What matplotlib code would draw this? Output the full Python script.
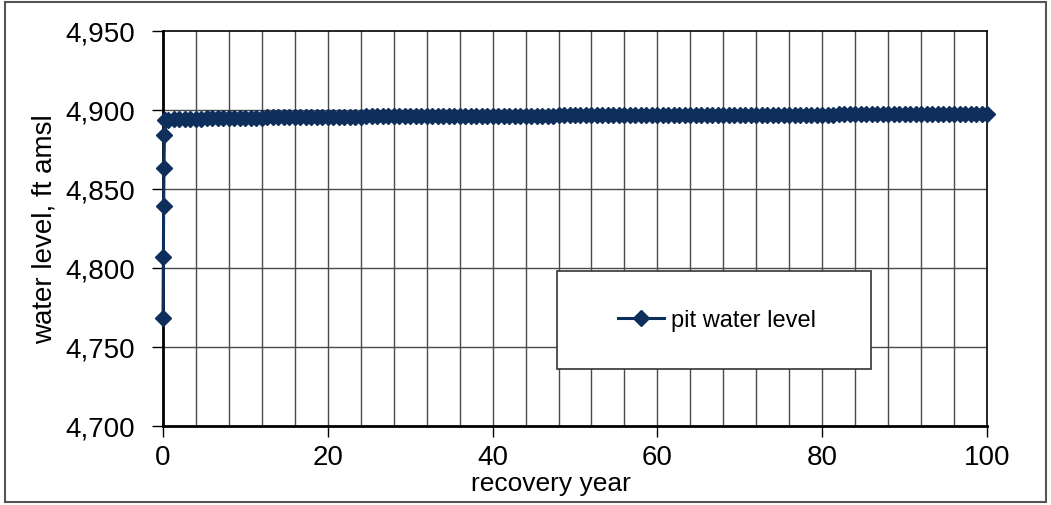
import matplotlib
matplotlib.use("Agg")
import matplotlib.pyplot as plt
from matplotlib.patches import Rectangle
from matplotlib.ticker import FuncFormatter

plt.rcParams['font.family'] = ['Liberation Sans', 'DejaVu Sans']

# early (sub-annual) points during rapid refill
x_early = [0.0, 0.04, 0.08, 0.12, 0.17, 0.3]
y_early = [4768.5, 4807.0, 4839.0, 4863.0, 4884.0, 4893.5]

# later points, model time step of 2/3 year
time_step = 2 / 3
y_later = [
    4893.8, 4894.0, 4894.2, 4894.3, 4894.4, 4894.5, 4894.6, 4894.7, 4894.7, 4894.8,
    4894.9, 4894.9, 4895.0, 4895.0, 4895.1, 4895.1, 4895.2, 4895.2, 4895.3, 4895.3,
    4895.4, 4895.4, 4895.4, 4895.5, 4895.5, 4895.5, 4895.6, 4895.6, 4895.6, 4895.7,
    4895.7, 4895.7, 4895.8, 4895.8, 4895.8, 4895.8, 4895.9, 4895.9, 4895.9, 4895.9,
    4896.0, 4896.0, 4896.0, 4896.0, 4896.1, 4896.1, 4896.1, 4896.1, 4896.1, 4896.2,
    4896.2, 4896.2, 4896.2, 4896.2, 4896.3, 4896.3, 4896.3, 4896.3, 4896.3, 4896.4,
    4896.4, 4896.4, 4896.4, 4896.4, 4896.4, 4896.5, 4896.5, 4896.5, 4896.5, 4896.5,
    4896.5, 4896.6, 4896.6, 4896.6, 4896.6, 4896.6, 4896.6, 4896.7, 4896.7, 4896.7,
    4896.7, 4896.7, 4896.7, 4896.7, 4896.8, 4896.8, 4896.8, 4896.8, 4896.8, 4896.8,
    4896.8, 4896.9, 4896.9, 4896.9, 4896.9, 4896.9, 4896.9, 4896.9, 4896.9, 4897.0,
    4897.0, 4897.0, 4897.0, 4897.0, 4897.0, 4897.0, 4897.0, 4897.0, 4897.0, 4897.1,
    4897.1, 4897.1, 4897.1, 4897.1, 4897.1, 4897.1, 4897.1, 4897.1, 4897.1, 4897.1,
    4897.1, 4897.1, 4897.2, 4897.2, 4897.2, 4897.2, 4897.2, 4897.2, 4897.2, 4897.2,
    4897.2, 4897.2, 4897.2, 4897.2, 4897.2, 4897.2, 4897.3, 4897.3, 4897.3, 4897.3,
    4897.3, 4897.3, 4897.3, 4897.3, 4897.3, 4897.3, 4897.4, 4897.4, 4897.4, 4897.4,
]
x_later = [time_step * (i + 1) for i in range(len(y_later))]

x_all = x_early + x_later
y_all = y_early + y_later

series_label = "pit water level"
x_label = "recovery year"
y_label = "water level, ft amsl"
x_ticks = [0, 20, 40, 60, 80, 100]
y_ticks = [4700, 4750, 4800, 4850, 4900, 4950]
grid_x = list(range(4, 100, 4))
grid_y = [4750, 4800, 4850, 4900]

W, H = 1051, 506
fig = plt.figure(figsize=(W / 100, H / 100), dpi=100)
ax = fig.add_axes([163 / W, 1 - 427 / H, (987 - 163) / W, (427 - 32) / H])

navy = '#0e2f5c'
ax.plot(x_all, y_all, color=navy, lw=2.2, marker='D', markersize=8.5,
        markeredgecolor=navy, markerfacecolor=navy, label=series_label,
        zorder=5, clip_on=False)

ax.set_xlim(0, 100)
ax.set_ylim(4700, 4950)
ax.set_xticks(x_ticks)
ax.set_yticks(y_ticks)
ax.yaxis.set_major_formatter(FuncFormatter(lambda v, p: f"{int(v):,}"))

for gx in grid_x:
    ax.axvline(gx, color='#4a4a4a', lw=1.0, zorder=1)
for gy in grid_y:
    ax.axhline(gy, color='#4a4a4a', lw=1.0, zorder=1)

ax.tick_params(axis='both', direction='out', length=8, width=1, labelsize=20, colors='black')
ax.tick_params(axis='x', pad=5)
ax.tick_params(axis='y', pad=12)
for side in ['left', 'bottom']:
    ax.spines[side].set_linewidth(2)
for side in ['top', 'right']:
    ax.spines[side].set_linewidth(1.2)

ax.set_xlabel(x_label, fontsize=19)
ax.xaxis.set_label_coords((551 - 163) / 824, (427 - 472) / 395)
ax.set_ylabel(y_label, fontsize=20)
ax.yaxis.set_label_coords((58 - 163) / 824, 0.5)

# legend box
bx0, by0, bx1, by1 = 557, 272, 871, 370
fig.patches.append(Rectangle((bx0 / W, 1 - by1 / H), (bx1 - bx0) / W, (by1 - by0) / H,
                             transform=fig.transFigure, facecolor='white',
                             edgecolor='#333333', lw=1.2, zorder=6))
leg = fig.legend(loc='center', bbox_to_anchor=(717 / W, 1 - 321 / H), frameon=False,
                 fontsize=17, handlelength=1.95, handletextpad=0.3)
leg.set_zorder(7)

# outer frame
fig.patches.append(Rectangle((5 / W, 3 / H), (1046 - 5) / W, (503 - 3) / H,
                             transform=fig.transFigure, facecolor='none',
                             edgecolor='#555555', lw=1.5))

fig.savefig('out.png', dpi=100)
